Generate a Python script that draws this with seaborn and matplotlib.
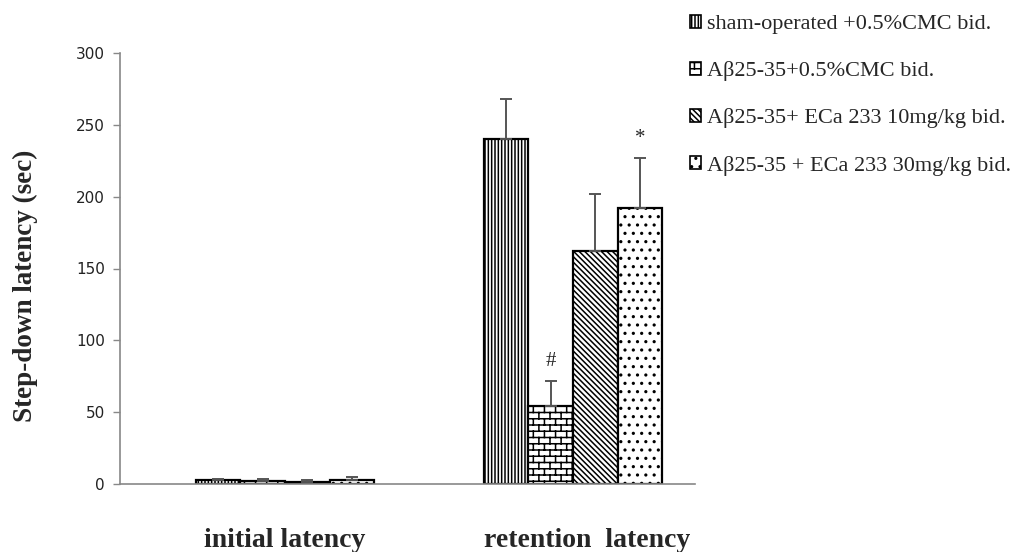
import numpy as np
import pandas as pd
import matplotlib
matplotlib.use("Agg")
import matplotlib.pyplot as plt
import matplotlib.hatch as mhatch
import matplotlib.transforms as mtrans
from matplotlib.path import Path
from matplotlib.patches import Patch, Rectangle
import seaborn as sns

# ---------------- data ----------------
phases = ["initial latency", "retention  latency"]
groups = ["sham-operated +0.5%CMC bid.",
          "A\u03b225-35+0.5%CMC bid.",
          "A\u03b225-35+ ECa 233 10mg/kg bid.",
          "A\u03b225-35 + ECa 233 30mg/kg bid."]
means_initial = [2.5, 2.0, 1.5, 3.0]
means_retention = [240, 54, 162, 192]
err_initial = [1.2, 1.5, 1.0, 2.0]
err_retention = [28, 18, 40, 35]
marks_retention = ["", "#", "", "*"]
yticks = [0, 50, 100, 150, 200, 250, 300]


# ------------- custom brick hatch (replaces 'O') -------------
class BrickHatch(mhatch.HatchPatternBase):
    def __init__(self, hatch, density):
        n = hatch.count('O')
        self.rows = 16 * n
        self.cols = 9 * n
        self.num_vertices = (self.rows + self.rows * self.cols) * 2 if n else 0

    def set_vertices_and_codes(self, vertices, codes):
        rows, cols = self.rows, self.cols
        h = 1.0 / rows
        w = 1.0 / cols
        k = 0
        for r in range(rows):
            y = r * h
            vertices[k] = (0.0, y); codes[k] = Path.MOVETO; k += 1
            vertices[k] = (1.0, y); codes[k] = Path.LINETO; k += 1
        for r in range(rows):
            y0 = r * h
            off = 0.0 if r % 2 == 0 else w / 2
            for c in range(cols):
                x = (c * w + off) % 1.0
                vertices[k] = (x, y0); codes[k] = Path.MOVETO; k += 1
                vertices[k] = (x, y0 + h); codes[k] = Path.LINETO; k += 1


mhatch._hatch_types = [t for t in mhatch._hatch_types
                       if t is not mhatch.LargeCircles] + [BrickHatch]

hatches = ["|||||", "O", "\\" * 6, ".."]

# ---------------- figure ----------------
sns.set_theme(style="white")
plt.rcParams["font.family"] = ["Liberation Serif", "DejaVu Serif"]
plt.rcParams["hatch.linewidth"] = 1.1
plt.rcParams["hatch.color"] = "black"

rows = []
for i, g in enumerate(groups):
    rows.append({"phase": phases[0], "group": g, "latency": means_initial[i]})
    rows.append({"phase": phases[1], "group": g, "latency": means_retention[i]})
df = pd.DataFrame(rows)

fig = plt.figure(figsize=(10.18, 5.52), dpi=100)
ax = fig.add_axes([120 / 1018, 1 - 484 / 552, (695 - 120) / 1018, (484 - 53) / 552])

sns.barplot(data=df, x="phase", y="latency", hue="group", order=phases,
            hue_order=groups, palette=["white"] * 4, edgecolor="black",
            linewidth=1.6, width=0.62, errorbar=None, legend=False, ax=ax,
            saturation=1)

bars = sorted([p for p in ax.patches if isinstance(p, Rectangle)],
              key=lambda p: p.get_x())
all_err = err_initial + err_retention
for j, bar in enumerate(bars):
    gi = j % 4
    bar.set_hatch(hatches[gi])
    bar.set_edgecolor("black")
    xc = bar.get_x() + bar.get_width() / 2
    top = bar.get_height()
    e = all_err[j]
    ax.errorbar([xc], [top], yerr=[[0], [e]], fmt="none",
                ecolor="#555555", elinewidth=1.4, capsize=4, capthick=1.4,
                zorder=1)
    if j >= 4 and marks_retention[gi]:
        ax.annotate(marks_retention[gi], (xc, top + e),
                    xytext=(0, 7), textcoords="offset points",
                    ha="center", va="bottom", fontsize=15)

ax.set_ylim(0, 300)
ax.set_xlim(-0.573, 1.424)
ax.set_yticks(yticks)
ax.set_yticklabels([str(t) for t in yticks], family="DejaVu Sans",
                   fontsize=11, color="#222222")
ax.tick_params(axis="y", direction="out", length=5, color="#888888",
               width=1, left=True, pad=6)
ax.tick_params(axis="x", length=0, pad=31.5, labelsize=20)
xlabels = ax.get_xticklabels()
for lab in xlabels:
    lab.set_fontweight("bold")
# the reference places the second label slightly right of its group centre
shift = mtrans.ScaledTranslation(14 / 100, 0, fig.dpi_scale_trans)
xlabels[1].set_transform(xlabels[1].get_transform() + shift)
ax.set_xlabel("")
ax.set_ylabel("Step-down latency (sec)", fontsize=19.5, fontweight="bold")
ax.yaxis.set_label_coords(-0.142, 0.459)

for s in ["top", "right"]:
    ax.spines[s].set_visible(False)
for s in ["left", "bottom"]:
    ax.spines[s].set_color("#888888")
    ax.spines[s].set_linewidth(1.2)

handles = [Patch(facecolor="white", edgecolor="black", hatch=hatches[i],
                 linewidth=1.2) for i in range(4)]
fig.legend(handles, groups, loc="upper left", bbox_to_anchor=(690 / 1018, 1 - 15 / 552),
           frameon=False, fontsize=16, handlelength=0.5, handleheight=0.5,
           handletextpad=0.25, labelspacing=1.22, borderpad=0, borderaxespad=0)

fig.savefig("out.png", dpi=100)
